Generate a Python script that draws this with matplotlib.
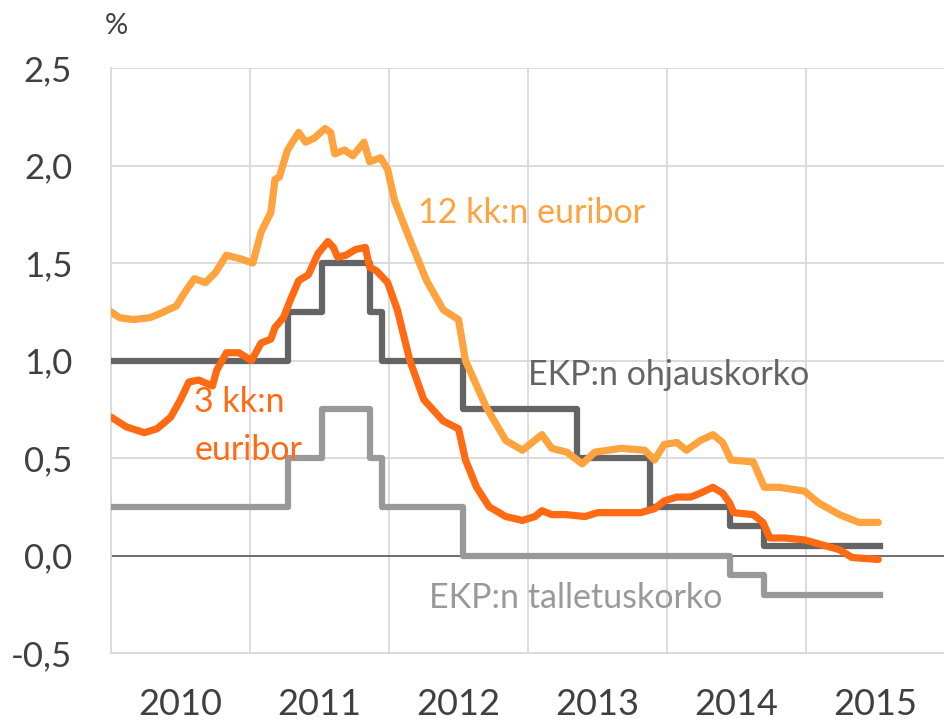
import numpy as np
import matplotlib
matplotlib.use("Agg")
import matplotlib.pyplot as plt

plt.rcParams['font.family'] = ['Lato', 'DejaVu Sans']

# 12 month euribor (decimal year, %)
e12_t = [2010.00, 2010.06, 2010.16, 2010.28, 2010.35, 2010.47, 2010.54, 2010.60, 2010.68,
         2010.75, 2010.83, 2010.94, 2011.02, 2011.08, 2011.15, 2011.18, 2011.21, 2011.27,
         2011.35, 2011.40, 2011.46, 2011.54, 2011.58, 2011.61, 2011.68, 2011.74, 2011.82,
         2011.86, 2011.94, 2011.99, 2012.04, 2012.15, 2012.27, 2012.39, 2012.50, 2012.55,
         2012.70, 2012.84, 2012.96, 2013.10, 2013.17, 2013.28, 2013.39, 2013.48, 2013.67,
         2013.84, 2013.91, 2013.98, 2014.07, 2014.14, 2014.24, 2014.33, 2014.40, 2014.46,
         2014.62, 2014.70, 2014.81, 2014.99, 2015.09, 2015.24, 2015.38, 2015.52]
e12_v = [1.25, 1.22, 1.21, 1.22, 1.24, 1.28, 1.36, 1.42, 1.40,
         1.45, 1.54, 1.52, 1.50, 1.66, 1.76, 1.93, 1.94, 2.08,
         2.17, 2.12, 2.14, 2.19, 2.17, 2.06, 2.08, 2.05, 2.12,
         2.02, 2.04, 1.98, 1.82, 1.62, 1.41, 1.26, 1.21, 1.00,
         0.76, 0.59, 0.54, 0.62, 0.55, 0.53, 0.47, 0.53, 0.55,
         0.54, 0.49, 0.57, 0.58, 0.54, 0.59, 0.62, 0.58, 0.49,
         0.48, 0.35, 0.35, 0.33, 0.27, 0.21, 0.17, 0.17]

# 3 month euribor
e3_t = [2010.00, 2010.11, 2010.24, 2010.33, 2010.43, 2010.50, 2010.56, 2010.63, 2010.73,
        2010.76, 2010.83, 2010.92, 2011.01, 2011.08, 2011.15, 2011.18, 2011.24, 2011.29,
        2011.35, 2011.42, 2011.49, 2011.56, 2011.60, 2011.63, 2011.69, 2011.76, 2011.83,
        2011.86, 2011.91, 2011.99, 2012.06, 2012.15, 2012.25, 2012.39, 2012.50, 2012.55,
        2012.63, 2012.72, 2012.84, 2012.96, 2013.05, 2013.10, 2013.17, 2013.27, 2013.41,
        2013.50, 2013.67, 2013.81, 2013.91, 2013.98, 2014.07, 2014.17, 2014.24, 2014.33,
        2014.40, 2014.45, 2014.48, 2014.62, 2014.69, 2014.74, 2014.85, 2014.99, 2015.09,
        2015.24, 2015.33, 2015.52]
e3_v = [0.71, 0.66, 0.63, 0.65, 0.71, 0.80, 0.89, 0.90, 0.87,
        0.95, 1.04, 1.04, 1.00, 1.09, 1.11, 1.17, 1.22, 1.31,
        1.41, 1.44, 1.55, 1.61, 1.58, 1.53, 1.54, 1.57, 1.58,
        1.48, 1.46, 1.40, 1.26, 1.00, 0.80, 0.69, 0.65, 0.49,
        0.35, 0.25, 0.20, 0.18, 0.20, 0.23, 0.21, 0.21, 0.20,
        0.22, 0.22, 0.22, 0.24, 0.28, 0.30, 0.30, 0.32, 0.35,
        0.32, 0.27, 0.22, 0.21, 0.17, 0.09, 0.09, 0.08, 0.06,
        0.03, -0.01, -0.02]

# ECB rates (change dates, step values)
rate_t = [2010.00, 2011.27, 2011.52, 2011.86, 2011.95, 2012.53, 2013.35, 2013.88, 2014.45, 2014.70, 2015.53]
refi_v = [1.00, 1.25, 1.50, 1.25, 1.00, 0.75, 0.50, 0.25, 0.15, 0.05, 0.05]
depo_v = [0.25, 0.50, 0.75, 0.50, 0.25, 0.00, 0.00, 0.00, -0.10, -0.20, -0.20]

years = [2010, 2011, 2012, 2013, 2014, 2015]
y_ticks = [-0.5, 0.0, 0.5, 1.0, 1.5, 2.0, 2.5]

c12 = '#FFA33F'
c3 = '#FF6A13'
crefi = '#646464'
cdepo = '#999999'
txt = '#404040'

fig = plt.figure(figsize=(9.45, 7.24), dpi=100)
ax = fig.add_axes([0.1175, 0.098, 0.8825, 0.808])

ax.step(rate_t, depo_v, where='post', color=cdepo, lw=4.5, zorder=3)
ax.step(rate_t, refi_v, where='post', color=crefi, lw=4.5, zorder=4)
ax.plot(e12_t, e12_v, color=c12, lw=5.2, solid_capstyle='round', solid_joinstyle='round', zorder=5)
ax.plot(e3_t, e3_v, color=c3, lw=5.2, solid_capstyle='round', solid_joinstyle='round', zorder=6)

ax.axhline(0, color='#505050', lw=1.1, zorder=2)

ax.set_xlim(2010, 2015.94)
ax.set_ylim(-0.5, 2.5)

ax.set_xticks(years + [2016])
ax.set_xticklabels([])
ax.set_xticks([y + 0.5 for y in years], minor=True)
ax.set_xticklabels([str(y) for y in years], minor=True)
ax.tick_params(axis='x', which='both', length=0)
ax.tick_params(axis='x', which='minor', labelsize=26, labelcolor=txt, pad=25)

ax.set_yticks(y_ticks)
ax.set_yticklabels([f"{v:.1f}".replace('.', ',') for v in y_ticks])
ax.tick_params(axis='y', length=0, labelsize=25, labelcolor=txt, pad=28)

ax.grid(True, which='major', color='#D9D9D9', lw=1.3, zorder=0)
ax.set_axisbelow(True)
for s in ['top', 'right']:
    ax.spines[s].set_visible(False)
for s in ['left', 'bottom']:
    ax.spines[s].set_color('#D9D9D9')
    ax.spines[s].set_linewidth(1.3)

fig.text(105 / 945, 1 - 26 / 724, '%', fontsize=21, color=txt, ha='left', va='center')

lab = 24.5
ax.text(2012.21, 2.5 - (213 - 68) / 195, '12 kk:n euribor', color=c12, fontsize=lab,
        ha='left', va='center')
ax.text(2010.60, 2.5 - (402 - 68) / 195, '3 kk:n', color=c3, fontsize=lab,
        ha='left', va='center')
ax.text(2010.60, 2.5 - (450 - 68) / 195, 'euribor', color=c3, fontsize=lab,
        ha='left', va='center')
ax.text(2013.0, 2.5 - (375 - 68) / 195, 'EKP:n ohjauskorko', color=crefi, fontsize=lab,
        ha='left', va='center')
ax.text(2012.29, 2.5 - (598 - 68) / 195, 'EKP:n talletuskorko', color=cdepo, fontsize=lab,
        ha='left', va='center')

fig.savefig('out.png', dpi=100)
